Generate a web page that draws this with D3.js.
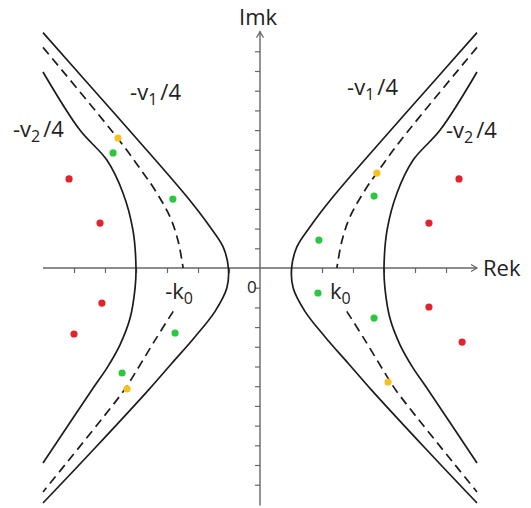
<!DOCTYPE html>
<html>
<head>
<meta charset="utf-8">
<script src="https://cdn.jsdelivr.net/npm/d3@7"></script>
<style>
  html, body { margin: 0; padding: 0; background: #fff; }
  svg { display: block; }
  text { font-family: "Open Sans", "Noto Sans", sans-serif; fill: #222; }
</style>
</head>
<body>
<svg id="chart" width="531" height="508"></svg>
<script>
// ---- data (Re k, Im k) ----
// profile of each branch: [|Re k|, Im k], ordered from top to bottom
const curveA = [[7.0, 11.95], [5.4, 9.1], [3.94, 6.5], [2.35, 3.6], [1.61, 2.08], [1.19, 1.07], [1.02, 0],
                [1.07, -1.02], [1.45, -2.2], [2.1, -3.5], [2.85, -4.85], [3.6, -6.2], [5.3, -9.1], [7.0, -11.93]];
const curveB = [[7.0, 9.95], [5.81, 7.0], [4.94, 5.48], [4.42, 3.81], [4.1, 1.93], [4.0, 0],
                [4.03, -1.02], [4.19, -2.54], [4.52, -3.91], [4.94, -5.08], [5.35, -6.02], [7.0, -9.9]];
const curveCUpper = [[7.0, 11.2], [4.5, 6.4], [3.77, 4.82], [3.45, 4.11], [2.9, 2.59], [2.65, 1.42], [2.52, 0.4], [2.48, 0]];
const curveCLower = [[2.8, -2.2], [3.4, -3.7], [4.19, -5.74], [4.45, -6.35], [7.0, -11.37]];

const redPts = [[-6.16, 4.52], [-5.16, 2.28], [-5.1, -1.78], [-6.0, -3.35],
                [6.42, 4.52], [5.45, 2.28], [5.45, -1.98], [6.52, -3.76]];
const greenPts = [[-4.74, 5.84], [-2.81, 3.5], [-2.74, -3.3], [-4.45, -5.33],
                  [3.68, 3.65], [1.9, 1.42], [1.87, -1.27], [3.68, -2.54]];
const yellowPts = [[-4.58, 6.6], [-4.29, -6.14], [3.77, 4.82], [4.13, -5.79]];

const xTicks = [-6, -5, -4, -3, -2, -1, 1, 2, 3, 4, 5, 6];
const yTicks = [-11, -10, -9, -8, -7, -6, -5, -4, -3, -2, -1, 1, 2, 3, 4, 5, 6, 7, 8, 9, 10, 11];

const labels = [
  {t: "-v", sub: "1", post: "/4", x: -4.19, y: 8.53},
  {t: "-v", sub: "2", post: "/4", x: -7.97, y: 6.65},
  {t: "-v", sub: "1", post: "/4", x: 2.81, y: 8.78},
  {t: "-v", sub: "2", post: "/4", x: 6.0, y: 6.6},
  {t: "-k", sub: "0", post: "", x: -3.06, y: -1.57},
  {t: "k", sub: "0", post: "", x: 2.26, y: -1.57}
];

// ---- scales ----
const x = d3.scaleLinear().domain([-7, 7]).range([43, 477]);
const y = d3.scaleLinear().domain([-12, 12]).range([504.4, 31.6]);

const svg = d3.select("#chart");
const axisColor = "#666";

// x axis
const gx = svg.append("g").attr("transform", `translate(0,${y(0)})`)
  .call(d3.axisBottom(x).tickValues(xTicks).tickSize(5).tickFormat(""));
gx.select(".domain").remove();
gx.selectAll(".tick line").attr("stroke", axisColor).attr("stroke-width", 1.2);
svg.append("line").attr("x1", x(-7)).attr("x2", x(7)).attr("y1", y(0)).attr("y2", y(0))
  .attr("stroke", axisColor).attr("stroke-width", 1.4);
svg.append("path")
  .attr("d", `M${x(7) - 6},${y(0) - 3.5}L${x(7)},${y(0)}L${x(7) - 6},${y(0) + 3.5}`)
  .attr("fill", "none").attr("stroke", axisColor).attr("stroke-width", 1.2);

// y axis
const gy = svg.append("g").attr("transform", `translate(${x(0)},0)`)
  .call(d3.axisLeft(y).tickValues(yTicks).tickSize(5).tickFormat(""));
gy.select(".domain").remove();
gy.selectAll(".tick line").attr("stroke", axisColor).attr("stroke-width", 1.2);
svg.append("line").attr("x1", x(0)).attr("x2", x(0)).attr("y1", y(12)).attr("y2", y(-12.05))
  .attr("stroke", axisColor).attr("stroke-width", 1.4);
svg.append("path")
  .attr("d", `M${x(0) - 3.5},${y(12) + 6}L${x(0)},${y(12)}L${x(0) + 3.5},${y(12) + 6}`)
  .attr("fill", "none").attr("stroke", axisColor).attr("stroke-width", 1.2);

// curves
const line = d3.line().x(d => x(d[0])).y(d => y(d[1])).curve(d3.curveCatmullRom.alpha(0.5));
function drawBranches(profile, dashed) {
  [-1, 1].forEach(s => {
    svg.append("path")
      .attr("d", line(profile.map(p => [s * p[0], p[1]])))
      .attr("fill", "none").attr("stroke", "#1c1c1c").attr("stroke-width", 1.7)
      .attr("stroke-dasharray", dashed ? "9,5.5" : null);
  });
}
drawBranches(curveA, false);
drawBranches(curveB, false);
drawBranches(curveCUpper, true);
drawBranches(curveCLower, true);

// points
function drawPts(pts, color) {
  svg.append("g").selectAll("circle").data(pts).join("circle")
    .attr("cx", d => x(d[0])).attr("cy", d => y(d[1])).attr("r", 3.6).attr("fill", color);
}
drawPts(redPts, "#e2232b");
drawPts(greenPts, "#2cc640");
drawPts(yellowPts, "#f5c122");

// labels
labels.forEach(l => {
  const t = svg.append("text").attr("x", x(l.x)).attr("y", y(l.y)).attr("font-size", 22);
  t.append("tspan").text(l.t);
  t.append("tspan").text(l.sub).attr("font-size", 16).attr("dy", 5);
  if (l.post) t.append("tspan").text(l.post).attr("dy", -5).attr("dx", 3);
});
svg.append("text").attr("x", x(0) - 13).attr("y", y(0) + 25).attr("font-size", 17).text("0");
svg.append("text").attr("x", x(0) - 21).attr("y", y(12) - 7).attr("font-size", 22).text("Imk");
svg.append("text").attr("x", x(7) + 6).attr("y", y(0) + 8).attr("font-size", 22).text("Rek");
</script>
</body>
</html>
